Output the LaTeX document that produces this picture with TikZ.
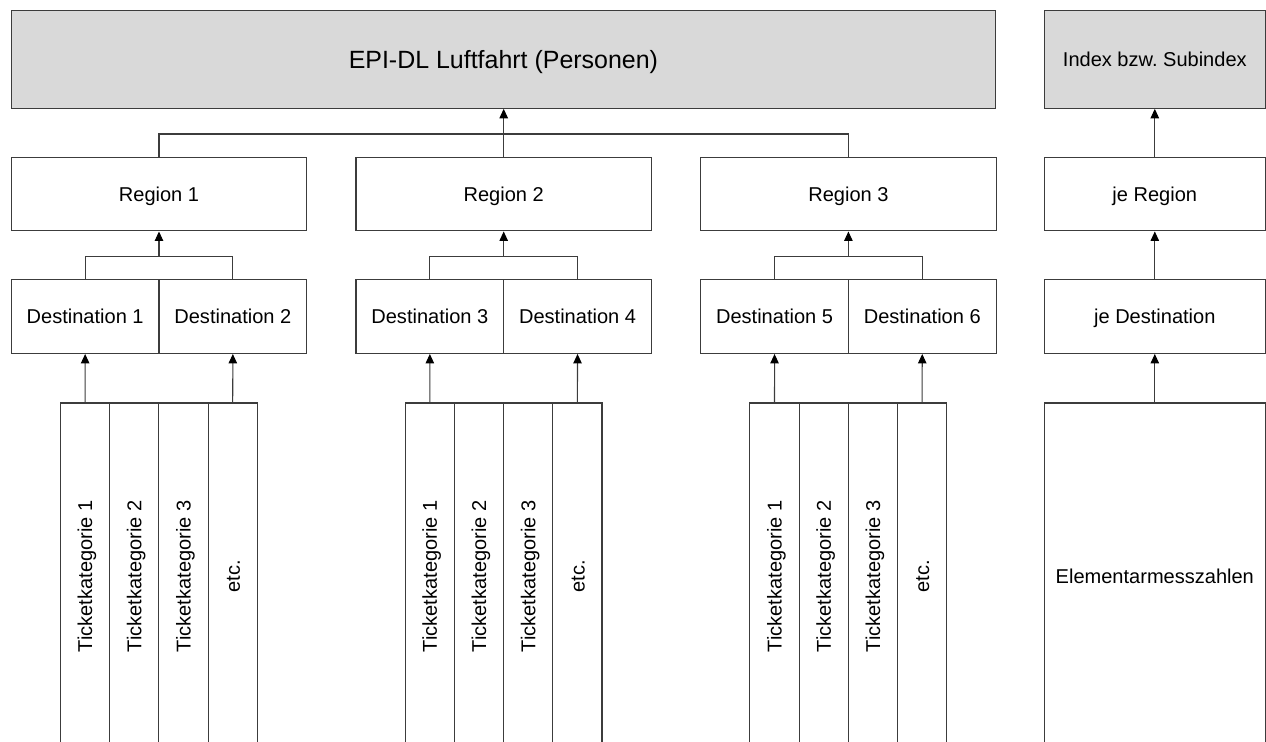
\documentclass[tikz,border=0pt]{standalone}
\usepackage{fontspec}
\setmainfont{Liberation Sans}
\usetikzlibrary{arrows.meta}
\frenchspacing
\definecolor{kastengrau}{RGB}{217,217,217}
\definecolor{linie}{RGB}{60,60,60}
\tikzset{
  kasten/.style={draw=linie, line width=0.6pt, minimum height=14.7mm, inner sep=0pt},
  spalte/.style={draw=linie, line width=0.6pt, minimum width=9.84mm, minimum height=69.4mm, inner sep=0pt},
  pfeil/.style={draw=linie, line width=0.6pt, -{Triangle[length=1.9mm,width=1.7mm,color=black]}},
  steg/.style={draw=linie, line width=0.6pt}
}
\begin{document}
\begin{tikzpicture}[x=0.2mm,y=-0.2mm, every node/.style={font=\fontsize{11.4}{13}\selectfont, text height=2.85mm, text depth=0pt}]
                \useasboundingbox (0,0) rectangle (1266,742) ;
                \clip (0,0) rectangle (1266,742) ;
                % oberste Ebene
                \node [kasten, fill=kastengrau, minimum width=196.84mm, minimum height=19.52mm, font=\fontsize{14.2}{17}\selectfont, text height=3.5mm] (epi) at (503.4,59.5) {EPI-DL Luftfahrt (Personen)} ;
                \node [kasten, fill=kastengrau, minimum width=44.2mm, minimum height=19.52mm] (idx) at (1154.8,59.5) {Index bzw. Subindex} ;
                % Regionen
                \node [kasten, minimum width=59.08mm] (reg1) at (159,194.2) {Region 1} ;
                \node [kasten, minimum width=59.08mm] (reg2) at (503.7,194.2) {Region 2} ;
                \node [kasten, minimum width=59.08mm] (reg3) at (848.4,194.2) {Region 3} ;
                \node [kasten, minimum width=44.2mm] (jereg) at (1154.8,194.2) {je Region} ;
                % Destinationen
                \node [kasten, minimum width=29.54mm] (d1) at (85.15,316.7) {Destination 1} ;
                \node [kasten, minimum width=29.54mm] (d2) at (232.85,316.7) {Destination 2} ;
                \node [kasten, minimum width=29.54mm] (d3) at (429.85,316.7) {Destination 3} ;
                \node [kasten, minimum width=29.54mm] (d4) at (577.55,316.7) {Destination 4} ;
                \node [kasten, minimum width=29.54mm] (d5) at (774.55,316.7) {Destination 5} ;
                \node [kasten, minimum width=29.54mm] (d6) at (922.25,316.7) {Destination 6} ;
                \node [kasten, minimum width=44.2mm] (jedest) at (1154.8,316.7) {je Destination} ;
                % Ticketkategorien
                \node [spalte, label={[rotate=90]center:Ticketkategorie 1}] (c11) at (85.1,576.5) {} ;
                \node [spalte, label={[rotate=90]center:Ticketkategorie 2}] (c12) at (134.3,576.5) {} ;
                \node [spalte, label={[rotate=90]center:Ticketkategorie 3}] (c13) at (183.5,576.5) {} ;
                \node [spalte, label={[rotate=90]center:etc.}] (c14) at (232.7,576.5) {} ;
                \node [spalte, label={[rotate=90]center:Ticketkategorie 1}] (c21) at (429.8,576.5) {} ;
                \node [spalte, label={[rotate=90]center:Ticketkategorie 2}] (c22) at (479,576.5) {} ;
                \node [spalte, label={[rotate=90]center:Ticketkategorie 3}] (c23) at (528.2,576.5) {} ;
                \node [spalte, label={[rotate=90]center:etc.}] (c24) at (577.4,576.5) {} ;
                \node [spalte, label={[rotate=90]center:Ticketkategorie 1}] (c31) at (774.5,576.5) {} ;
                \node [spalte, label={[rotate=90]center:Ticketkategorie 2}] (c32) at (823.7,576.5) {} ;
                \node [spalte, label={[rotate=90]center:Ticketkategorie 3}] (c33) at (872.9,576.5) {} ;
                \node [spalte, label={[rotate=90]center:etc.}] (c34) at (922.1,576.5) {} ;
                \node [spalte, minimum width=44.2mm] (elem) at (1154.8,576.5) {Elementarmesszahlen} ;
                % Verbindungen
                \coordinate (rbar) at (503.7,134) ;
                \coordinate (db1) at (159,256.7) ;
                \coordinate (db2) at (503.7,256.7) ;
                \coordinate (db3) at (848.4,256.7) ;
                \draw [steg] (reg1.north) |- (rbar) -| (reg3.north) ;
                \draw [pfeil] (reg2.north) -- (reg2.north |- epi.south) ;
                \draw [steg] (d1.north) |- (db1) -| (d2.north) ;
                \draw [steg] (d3.north) |- (db2) -| (d4.north) ;
                \draw [steg] (d5.north) |- (db3) -| (d6.north) ;
                \draw [pfeil] (db1) -- (reg1.south) ;
                \draw [pfeil] (db2) -- (reg2.south) ;
                \draw [pfeil] (db3) -- (reg3.south) ;
                \draw [pfeil] (c11.north) -- (d1.south) ;
                \draw [pfeil] (c14.north) -- (d2.south) ;
                \draw [pfeil] (c21.north) -- (d3.south) ;
                \draw [pfeil] (c24.north) -- (d4.south) ;
                \draw [pfeil] (c31.north) -- (d5.south) ;
                \draw [pfeil] (c34.north) -- (d6.south) ;
                \draw [pfeil] (elem.north) -- (jedest.south) ;
                \draw [pfeil] (jedest.north) -- (jereg.south) ;
                \draw [pfeil] (jereg.north) -- (idx.south) ;
            \end{tikzpicture}
\end{document}
